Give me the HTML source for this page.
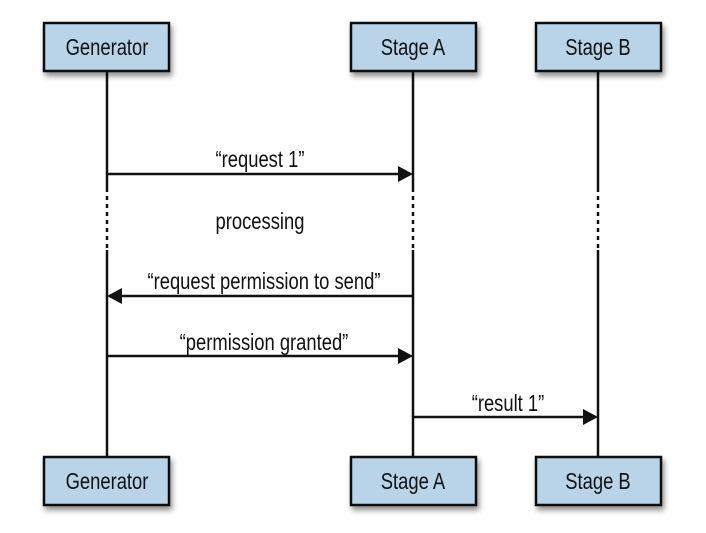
<!DOCTYPE html>
<html><head><style>
body{margin:0;background:#fff}
svg text{font-family:"Liberation Sans Narrow","Liberation Sans",sans-serif;font-size:23px;fill:#111}
</style></head><body>
<svg width="706" height="528" viewBox="0 0 706 528" xmlns="http://www.w3.org/2000/svg">
<defs>
<filter id="sh" x="-20%" y="-20%" width="150%" height="160%"><feGaussianBlur in="SourceAlpha" stdDeviation="3"/><feOffset dx="2" dy="4"/><feComponentTransfer><feFuncA type="linear" slope="0.45"/></feComponentTransfer><feMerge><feMergeNode/><feMergeNode in="SourceGraphic"/></feMerge></filter>
</defs>
<g stroke="#111" stroke-width="2.5" fill="none">
<line x1="107" y1="71" x2="107" y2="192"/><line x1="107" y1="196" x2="107" y2="248" stroke-dasharray="4,4"/><line x1="107" y1="250" x2="107" y2="456"/>
<line x1="413" y1="71" x2="413" y2="192"/><line x1="413" y1="196" x2="413" y2="248" stroke-dasharray="4,4"/><line x1="413" y1="250" x2="413" y2="456"/>
<line x1="598" y1="71" x2="598" y2="192"/><line x1="598" y1="196" x2="598" y2="248" stroke-dasharray="4,4"/><line x1="598" y1="250" x2="598" y2="456"/>
<line x1="107" y1="174" x2="400" y2="174"/>
<line x1="413" y1="296" x2="120" y2="296"/>
<line x1="107" y1="356" x2="400" y2="356"/>
<line x1="413" y1="417" x2="585" y2="417"/>
</g>
<g fill="#111">
<polygon points="413,174 398,166 398,182"/>
<polygon points="107,296 122,288 122,304"/>
<polygon points="413,356 398,348 398,364"/>
<polygon points="598,417 583,409 583,425"/>
</g>
<g filter="url(#sh)" fill="#b9d3e8" stroke="#111" stroke-width="2.5">
<rect x="44" y="23" width="125" height="48"/>
<rect x="351" y="23" width="125" height="48"/>
<rect x="536" y="23" width="125" height="48"/>
<rect x="44" y="457" width="125" height="48"/>
<rect x="351" y="457" width="125" height="48"/>
<rect x="536" y="457" width="125" height="48"/>
</g>
<g text-anchor="middle">
<text x="107" y="55" transform="translate(107 0) scale(0.8 1) translate(-107 0)">Generator</text>
<text x="413" y="55" transform="translate(413 0) scale(0.8 1) translate(-413 0)">Stage A</text>
<text x="598" y="55" transform="translate(598 0) scale(0.8 1) translate(-598 0)">Stage B</text>
<text x="107" y="489" transform="translate(107 0) scale(0.8 1) translate(-107 0)">Generator</text>
<text x="413" y="489" transform="translate(413 0) scale(0.8 1) translate(-413 0)">Stage A</text>
<text x="598" y="489" transform="translate(598 0) scale(0.8 1) translate(-598 0)">Stage B</text>
<text x="260" y="167" transform="translate(260 0) scale(0.8 1) translate(-260 0)">“request 1”</text>
<text x="260" y="229" transform="translate(260 0) scale(0.8 1) translate(-260 0)">processing</text>
<text x="264" y="289" transform="translate(264 0) scale(0.8 1) translate(-264 0)">“request permission to send”</text>
<text x="264" y="350" transform="translate(264 0) scale(0.8 1) translate(-264 0)">“permission granted”</text>
<text x="508" y="411" transform="translate(508 0) scale(0.8 1) translate(-508 0)">“result 1”</text>
</g>
</svg>
</body></html>
